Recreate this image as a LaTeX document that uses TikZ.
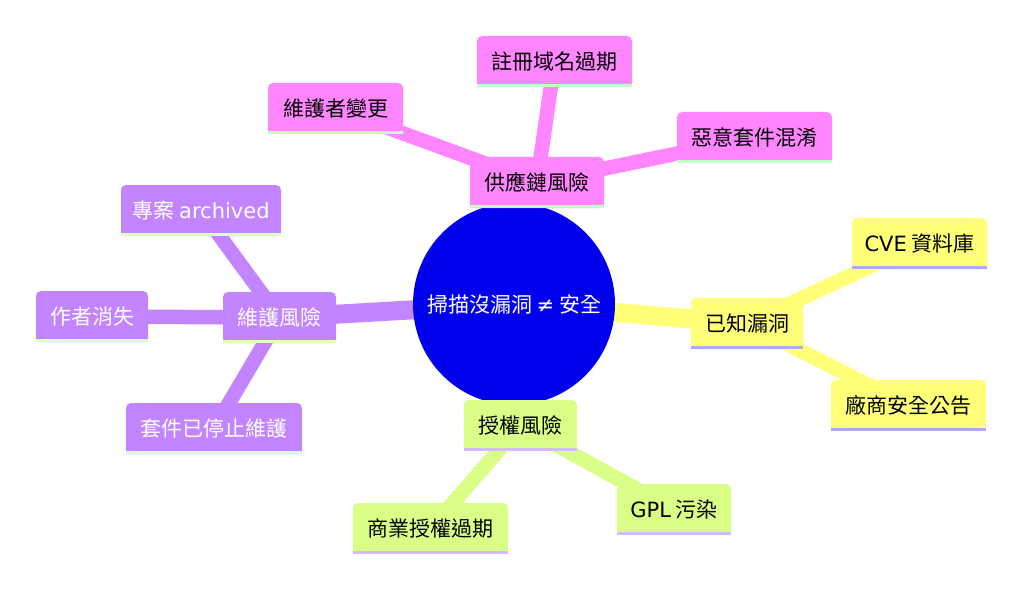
\documentclass[tikz,border=0pt]{standalone}
\usepackage{fontspec}
\setmainfont{Noto Sans CJK TC}
\newfontfamily\lat{DejaVu Sans}
\usetikzlibrary{backgrounds}
\definecolor{rootc}{HTML}{0000EC}
\definecolor{pinkc}{HTML}{FF86FF}
\definecolor{pinkl}{HTML}{C2FFC6}
\definecolor{yelc}{HTML}{FFFF78}
\definecolor{yell}{HTML}{AAAAF8}
\definecolor{grnc}{HTML}{D9FF86}
\definecolor{grnl}{HTML}{D2BCFF}
\definecolor{purc}{HTML}{C285FF}
\definecolor{purl}{HTML}{DCFFC6}
\newcommand\mmnode[8]{%
  \node[mmbox, minimum width=#4pt, fill=#5, text=#7] (#1) at (#2,#3) {#8};
  \fill[#5] (#1.south west) rectangle ([yshift=6pt]#1.south east);
  \fill[#6] (#1.south west) rectangle ([yshift=3.5pt]#1.south east);
}
\begin{document}
\begin{tikzpicture}[x=1pt,y=-1pt,
  mmbox/.style={rectangle, rounded corners=5pt, minimum height=51pt, inner sep=0pt,
    font=\fontsize{21}{25}\selectfont},
  rootedge/.style={line width=19pt},
  leafedge/.style={line width=14.5pt}]
\useasboundingbox (0,0) rectangle (1024,596);
\node[circle, fill=rootc, minimum size=202pt, inner sep=0pt, text=white,
  font=\fontsize{21}{25}\selectfont] (R) at (514,304) {掃描沒漏洞 {\lat ≠} 安全};
% supply chain
\mmnode{P}{537}{182.5}{134}{pinkc}{pinkl}{black}{供應鏈風險}
\mmnode{P1}{335.5}{108.5}{135}{pinkc}{pinkl}{black}{維護者變更}
\mmnode{P2}{554.5}{61.5}{155}{pinkc}{pinkl}{black}{註冊域名過期}
\mmnode{P3}{754.5}{137.5}{155}{pinkc}{pinkl}{black}{惡意套件混淆}
% known vulns
\mmnode{Y}{747}{323.5}{112}{yelc}{yell}{black}{已知漏洞}
\mmnode{Y1}{919.5}{243.5}{135}{yelc}{yell}{black}{{\lat CVE} 資料庫}
\mmnode{Y2}{908.5}{405.5}{155}{yelc}{yell}{black}{廠商安全公告}
% license
\mmnode{G}{520.5}{425.5}{113}{grnc}{grnl}{black}{授權風險}
\mmnode{G1}{430.5}{528.5}{155}{grnc}{grnl}{black}{商業授權過期}
\mmnode{G2}{674}{509.5}{114}{grnc}{grnl}{black}{{\lat GPL} 污染}
% maintenance
\mmnode{V}{279.5}{317.5}{113}{purc}{purl}{white}{維護風險}
\mmnode{V1}{201}{210.5}{160}{purc}{purl}{white}{專案 {\lat archived}}
\mmnode{V2}{92}{316.5}{112}{purc}{purl}{white}{作者消失}
\mmnode{V3}{214}{428.5}{176}{purc}{purl}{white}{套件已停止維護}
\begin{scope}[on background layer]
  \draw[rootedge, pinkc] (R.center) -- (P.center);
  \draw[rootedge, yelc] (R.center) -- (Y.center);
  \draw[rootedge, grnc] (R.center) -- (G.center);
  \draw[rootedge, purc] (R.center) -- (V.center);
  \draw[leafedge, pinkc] (P.center) -- (P1.center);
  \draw[leafedge, pinkc] (P.center) -- (P2.center);
  \draw[leafedge, pinkc] (P.center) -- (P3.center);
  \draw[leafedge, yelc] (Y.center) -- (Y1.center);
  \draw[leafedge, yelc] (Y.center) -- (Y2.center);
  \draw[leafedge, grnc] (G.center) -- (G1.center);
  \draw[leafedge, grnc] (G.center) -- (G2.center);
  \draw[leafedge, purc] (V.center) -- (V1.center);
  \draw[leafedge, purc] (V.center) -- (V2.center);
  \draw[leafedge, purc] (V.center) -- (V3.center);
\end{scope}
\end{tikzpicture}
\end{document}
